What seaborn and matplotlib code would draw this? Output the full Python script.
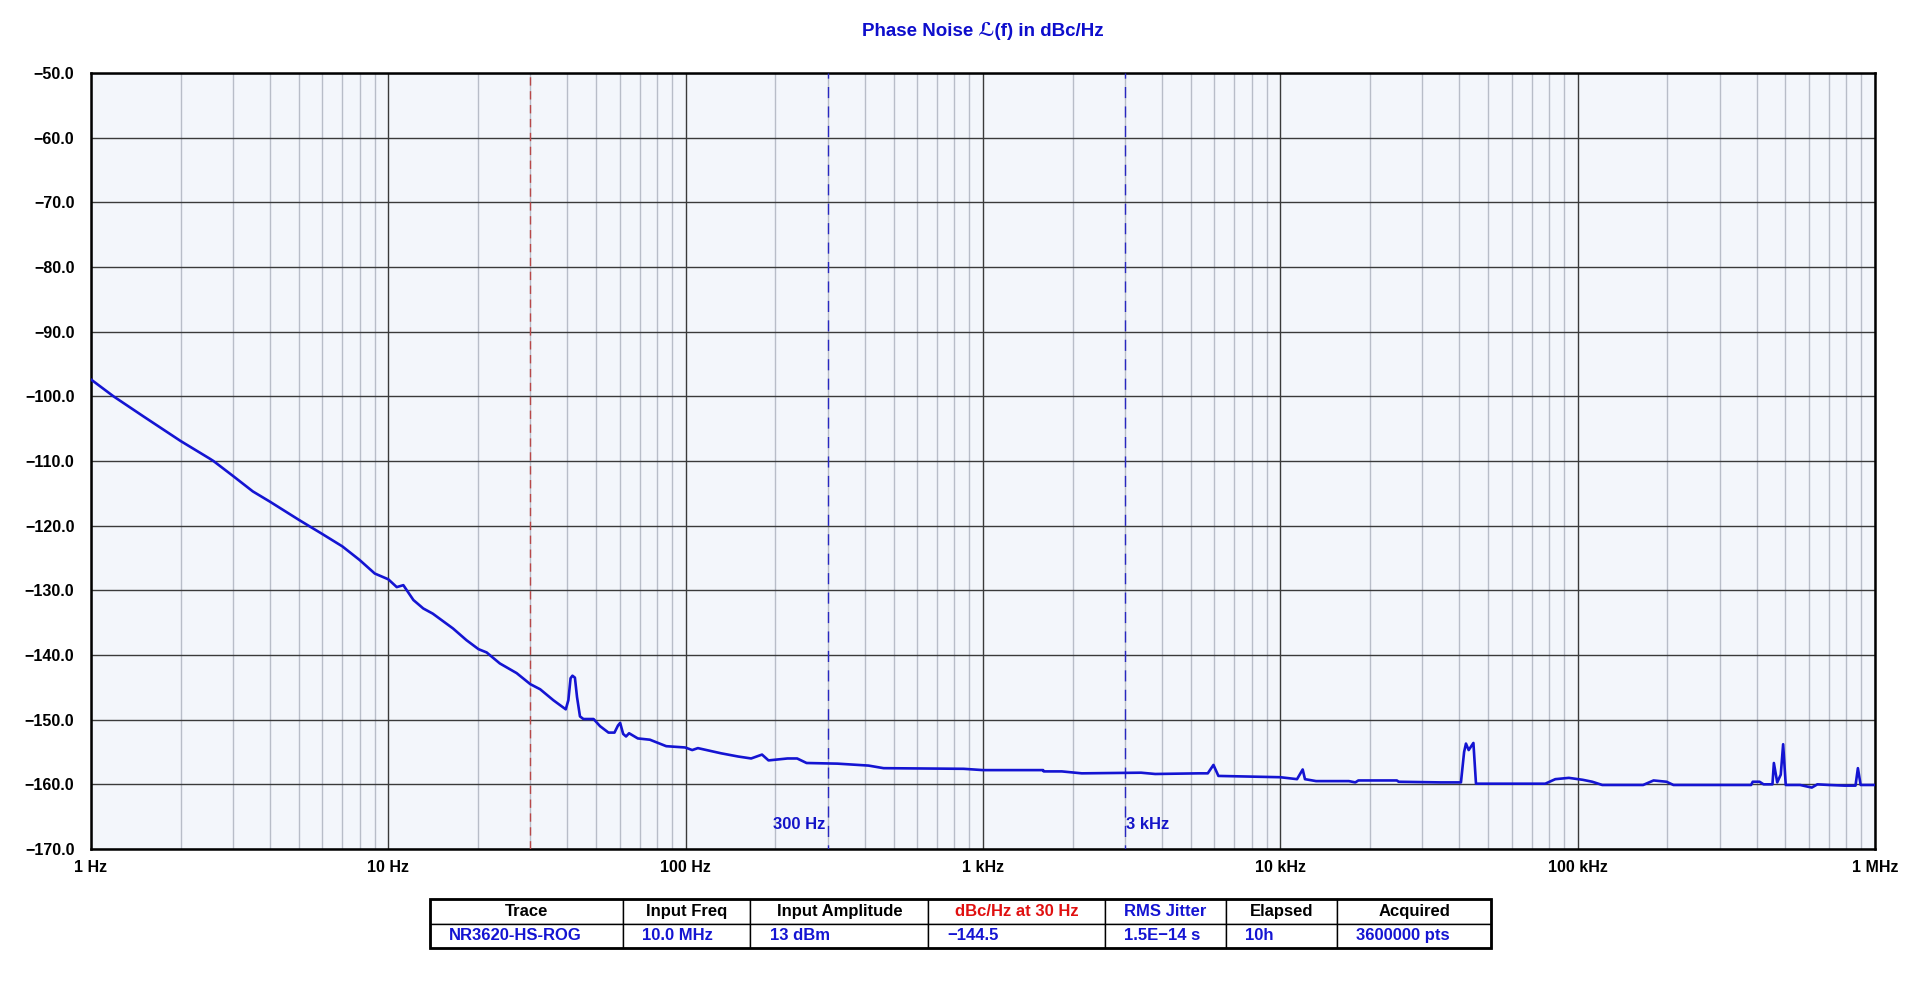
import matplotlib
matplotlib.use('Agg')
import matplotlib.pyplot as plt
from matplotlib.ticker import FixedLocator, LogLocator, NullFormatter
from matplotlib.patches import Rectangle
import seaborn as sns
import pandas as pd

# offset frequency (Hz) and single-sideband phase noise (dBc/Hz)
freq_hz = [
    1.0, 1.19, 1.5, 2.0, 2.5, 2.58, 3.0, 3.5, 4.0, 5.0, 6.0, 7.0, 8.0, 9.0, 10.0,
    10.67, 11.23, 12.14, 13.1, 14.1, 16.5, 18.3, 20.1, 21.4, 23.7, 27.0, 30.0,
    32.4, 35.9, 39.5, 40.3, 41.0, 41.6, 42.4, 43.1, 44.1, 45.3, 49.0, 51.5,
    55.0, 57.6, 59.2, 60.2, 61.6, 63.0, 64.5, 69.0, 75.8, 86.0, 99.6, 105.2,
    109.9, 131.5, 150.2, 166.0, 180.6, 189.9, 220.0, 237.0, 255.0, 324.0,
    412.0, 463.0, 861.0, 1000.0, 1593.0, 1600.0, 1841.0, 2149.0, 3400.0,
    3795.0, 5320.0, 5700.0, 5957.0, 6190.0, 10000.0, 11380.0, 11890.0,
    12100.0, 13190.0, 17000.0, 17870.0, 18300.0, 24650.0, 25000.0, 34500.0,
    40500.0, 41500.0, 42100.0, 43000.0, 44600.0, 45500.0, 77800.0, 84100.0,
    93400.0, 104000.0, 112000.0, 121000.0, 166000.0, 180000.0, 199000.0,
    210000.0, 383000.0, 388000.0, 409000.0, 422000.0, 452000.0, 457000.0,
    469000.0, 482000.0, 491000.0, 501000.0, 560000.0, 613000.0, 640000.0,
    700000.0, 790000.0, 860000.0, 876000.0, 895000.0, 1000000.0,
]
level_dbc = [
    -97.4, -100.0, -103.1, -106.9, -109.6, -110.0, -112.3, -114.7, -116.3,
    -119.1, -121.3, -123.2, -125.3, -127.4, -128.3, -129.5, -129.2, -131.5,
    -132.8, -133.6, -135.9, -137.7, -139.1, -139.6, -141.3, -142.8, -144.5,
    -145.3, -147.0, -148.4, -147.0, -143.6, -143.2, -143.5, -146.5, -149.5,
    -149.9, -149.9, -151.0, -152.0, -152.0, -150.9, -150.5, -152.2, -152.6,
    -152.1, -152.9, -153.1, -154.1, -154.3, -154.7, -154.4, -155.2, -155.7,
    -156.0, -155.4, -156.3, -156.0, -156.0, -156.7, -156.8, -157.1, -157.5,
    -157.6, -157.8, -157.8, -158.0, -158.0, -158.3, -158.2, -158.4, -158.3,
    -158.3, -157.0, -158.7, -158.9, -159.2, -157.7, -159.2, -159.5, -159.5,
    -159.7, -159.4, -159.4, -159.6, -159.7, -159.7, -155.0, -153.7, -154.7,
    -153.6, -159.9, -159.9, -159.2, -159.0, -159.3, -159.6, -160.1, -160.1,
    -159.4, -159.6, -160.1, -160.1, -159.6, -159.6, -160.0, -160.0, -156.7,
    -159.7, -158.5, -153.8, -160.1, -160.1, -160.5, -160.0, -160.1, -160.2,
    -160.2, -157.5, -160.1, -160.1,
]

x_tick_vals = [1, 10, 100, 1e3, 1e4, 1e5, 1e6]
x_tick_labels = ['1 Hz', '10 Hz', '100 Hz', '1 kHz', '10 kHz', '100 kHz', '1 MHz']
y_tick_vals = list(range(-170, -49, 10))

spot_freq = 30
band_freqs = [300, 3000]
band_labels = ['300 Hz', '3 kHz']

table_headers = ['Trace', 'Input Freq', 'Input Amplitude', 'dBc/Hz at 30 Hz',
                 'RMS Jitter', 'Elapsed', 'Acquired']
table_values = ['NR3620-HS-ROG', '10.0 MHz', '13 dBm', '\u2212144.5',
                '1.5E\u221214 s', '10h', '3600000 pts']
col_px = [192, 127, 177, 176, 120, 111, 153]

BLUE = '#1414d2'
sns.set_theme(style='white')
plt.rcParams['font.family'] = ['Liberation Sans', 'DejaVu Sans']
plt.rcParams['font.weight'] = 'bold'

df = pd.DataFrame({'freq': freq_hz, 'level': level_dbc})

fig = plt.figure(figsize=(19.29, 10.07), dpi=100)
ax = fig.add_axes([0.0472, 0.1569, 0.9248, 0.7706])
ax.set_facecolor('#f3f6fb')

sns.lineplot(data=df, x='freq', y='level', ax=ax, color=BLUE, lw=1.9,
             sort=False, estimator=None, zorder=5)

ax.set_xscale('log')
ax.set_xlim(1, 1e6)
ax.set_ylim(-170, -50)
ax.xaxis.set_major_locator(FixedLocator(x_tick_vals))
ax.set_xticklabels(x_tick_labels)
ax.xaxis.set_minor_locator(LogLocator(base=10, subs=range(2, 10), numticks=20))
ax.xaxis.set_minor_formatter(NullFormatter())
ax.set_yticks(y_tick_vals)
ax.set_yticklabels([f'{v:.1f}'.replace('-', '\u2212') for v in y_tick_vals])
ax.tick_params(axis='both', which='both', length=0, labelsize=11.5, colors='black')
ax.tick_params(axis='x', pad=8)
ax.tick_params(axis='y', pad=12)
ax.set_xlabel('')
ax.set_ylabel('')

ax.grid(which='major', axis='both', color='#3a3a3a', lw=1.0)
ax.grid(which='minor', axis='x', color='#b8bdc8', lw=1.0)
ax.set_axisbelow(True)
for s in ax.spines.values():
    s.set_color('black')
    s.set_linewidth(1.8)

ax.axvline(spot_freq, color='#b84848', lw=1.0, ls=(0, (6, 4)), zorder=3)
for f, lab, side in zip(band_freqs, band_labels, ['right', 'left']):
    ax.axvline(f, color='#2828c0', lw=1.0, ls=(5, (8, 6)), zorder=3)
    off = 0.985 if side == 'right' else 1.012
    ax.text(f * off, -166.2, lab, ha=side, va='center', color='#1414c8',
            fontsize=12, fontweight='bold')

ax.set_title('Phase Noise \u2112(f) in dBc/Hz', color='#0e0ecc', fontsize=13.5,
             fontweight='bold', pad=27)

# summary table under the chart
tax = fig.add_axes([0.2229, 0.0586, 0.5500, 0.0486])
tax.axis('off')
tot = sum(col_px)
tbl = tax.table(cellText=[table_values], colLabels=table_headers,
                colWidths=[w / tot for w in col_px], bbox=[0, 0, 1, 1],
                cellLoc='left')
tbl.auto_set_font_size(False)
head_colors = ['black', 'black', 'black', '#e01010', '#1414d2', 'black', 'black']
for (r, c), cell in tbl.get_celld().items():
    cell.set_edgecolor('black')
    cell.set_linewidth(1.0)
    cell.set_facecolor('white')
    txt = cell.get_text()
    txt.set_fontsize(12)
    txt.set_fontweight('bold')
    if r == 0:
        cell._loc = 'center'
        txt.set_ha('center')
        txt.set_color(head_colors[c])
    else:
        cell.PAD = 19 / col_px[c]
        txt.set_color(BLUE)
tax.add_patch(Rectangle((0, 0), 1, 1, transform=tax.transAxes, fill=False,
                        ec='black', lw=2.0, zorder=10, clip_on=False))

fig.savefig('out.png', dpi=100)
